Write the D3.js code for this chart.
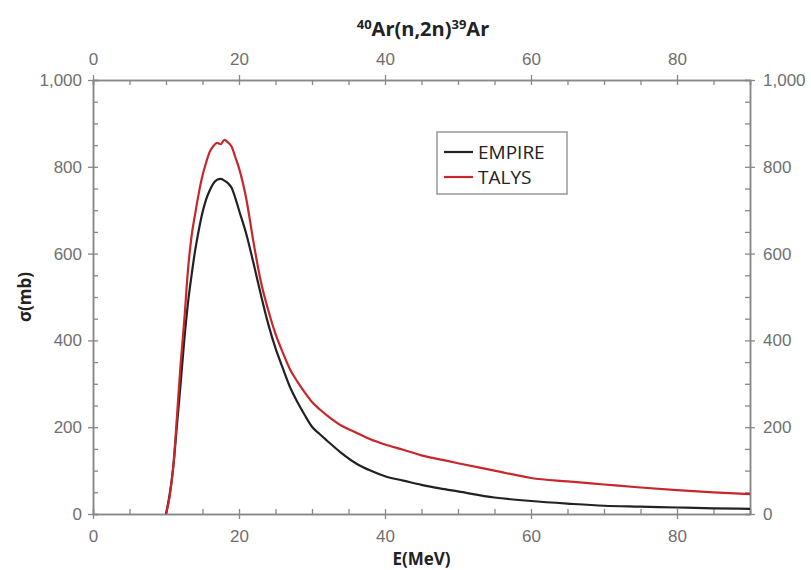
<!DOCTYPE html>
<html>
<head>
<meta charset="utf-8">
<script src="https://cdn.jsdelivr.net/npm/d3@7"></script>
<style>
  body { margin: 0; background: #fff; }
  svg { font-family: "Open Sans", "Noto Sans", sans-serif; }
  .axis path { stroke: #888; stroke-width: 1.5; }
  .axis line { stroke: #888; stroke-width: 1.3; }
  .axis text { fill: #707070; font-size: 17px; }
</style>
</head>
<body>
<svg id="chart"></svg>
<script>
// Energy grid (MeV)
var energy = [10, 10.5, 11, 11.5, 12, 12.5, 13, 13.5, 14, 14.5, 15, 15.5, 16, 16.5, 17, 17.5,
  18, 18.5, 19, 19.5, 20, 21, 22, 23, 24, 25, 26, 27, 28, 29, 30, 31, 32, 34, 36, 38, 40,
  42.5, 45, 47.5, 50, 55, 60, 65, 70, 75, 80, 85, 90];

// Cross sections (mb)
var empire = [0, 45, 109, 205, 300, 400, 485, 550, 608, 655, 695, 725, 746, 762, 770, 772,
  768, 762, 751, 728, 700, 645, 577, 505, 438, 382, 336, 292, 258, 228, 201, 185, 170, 141, 117, 100, 87,
  77, 67, 59, 52, 38, 30, 24, 19, 17, 15, 13, 12];
var talys = [0, 40, 110, 224, 345, 445, 560, 640, 692, 740, 780, 810, 835, 848, 855, 852,
  862, 856, 846, 822, 797, 726, 625, 535, 470, 415, 372, 333, 305, 280, 258, 242, 228, 204, 188, 172, 160,
  148, 135, 126, 117, 100, 83, 75, 68, 61, 55, 50, 46];

var xTicks = [0, 20, 40, 60, 80];
var yTicks = [0, 200, 400, 600, 800, 1000];
var seriesNames = ["EMPIRE", "TALYS"];
var seriesColors = ["#222222", "#c9262c"];

var W = 811, H = 570;
var margin = { top: 80, right: 61, bottom: 56, left: 93 },
  width = W - margin.left - margin.right,
  height = H - margin.top - margin.bottom;

var svg = d3.select("#chart").attr("width", W).attr("height", H);
var g = svg.append("g").attr("transform", `translate(${margin.left},${margin.top})`);

var xScale = d3.scaleLinear().domain([0, 90]).range([0, width]);
var yScale = d3.scaleLinear().domain([0, 1000]).range([height, 0]);

var xMinor = d3.range(0, 91, 5);
var yMinor = d3.range(0, 1001, 50);
var fmt = d3.format(",");

// minor ticks (inside)
g.append("g").attr("class", "axis").attr("transform", `translate(0,${height})`)
  .call(d3.axisBottom(xScale).tickValues(xMinor).tickSize(-5).tickFormat(""));
g.append("g").attr("class", "axis")
  .call(d3.axisTop(xScale).tickValues(xMinor).tickSize(-5).tickFormat(""));
g.append("g").attr("class", "axis")
  .call(d3.axisLeft(yScale).tickValues(yMinor).tickSize(-5).tickFormat(""));
g.append("g").attr("class", "axis").attr("transform", `translate(${width},0)`)
  .call(d3.axisRight(yScale).tickValues(yMinor).tickSize(-5).tickFormat(""));

// major ticks (outside) with labels
g.append("g").attr("class", "axis").attr("transform", `translate(0,${height})`)
  .call(d3.axisBottom(xScale).tickValues(xTicks).tickSize(5).tickSizeOuter(0).tickPadding(11));
g.append("g").attr("class", "axis")
  .call(d3.axisTop(xScale).tickValues(xTicks).tickSize(5).tickSizeOuter(0).tickPadding(10));
g.append("g").attr("class", "axis")
  .call(d3.axisLeft(yScale).tickValues(yTicks).tickSize(5).tickSizeOuter(0).tickFormat(fmt).tickPadding(6));
g.append("g").attr("class", "axis").attr("transform", `translate(${width},0)`)
  .call(d3.axisRight(yScale).tickValues(yTicks).tickSize(5).tickSizeOuter(0).tickFormat(fmt).tickPadding(8));

// curves
var line = d3.line().x((d, i) => xScale(energy[i])).y(d => yScale(d)).curve(d3.curveMonotoneX);
[empire, talys].forEach(function(s, k) {
  g.append("path").datum(s)
    .attr("fill", "none")
    .attr("stroke", seriesColors[k])
    .attr("stroke-width", 2.2)
    .attr("stroke-linejoin", "round")
    .attr("d", line);
});

// legend
var leg = svg.append("g").attr("transform", "translate(437,132)");
leg.append("rect").attr("width", 130).attr("height", 62)
  .attr("fill", "#fff").attr("stroke", "#999").attr("stroke-width", 1.5);
seriesNames.forEach(function(name, k) {
  var yy = 20 + k * 25;
  leg.append("line").attr("x1", 7).attr("x2", 36).attr("y1", yy).attr("y2", yy)
    .attr("stroke", seriesColors[k]).attr("stroke-width", 2.2);
  leg.append("text").attr("x", 41).attr("y", yy + 7).attr("fill", "#222")
    .style("font-size", "19px").text(name);
});

// title
var title = svg.append("text").attr("x", 423).attr("y", 36)
  .attr("text-anchor", "middle").style("font-weight", "bold").style("font-size", "20px").attr("fill", "#222");
title.append("tspan").attr("dy", "-7").style("font-size", "13px").text("40");
title.append("tspan").attr("dy", "7").text("Ar(n,2n)");
title.append("tspan").attr("dy", "-7").style("font-size", "13px").text("39");
title.append("tspan").attr("dy", "7").text("Ar");

// axis labels
svg.append("text")
  .attr("x", margin.left + xScale(45)).attr("y", 565)
  .attr("text-anchor", "middle").style("font-weight", "bold").style("font-size", "17px").attr("fill", "#222")
  .text("E(MeV)");
svg.append("text")
  .attr("transform", `translate(31,${margin.top + height / 2}) rotate(-90)`)
  .attr("text-anchor", "middle").style("font-weight", "bold").style("font-size", "17px").attr("fill", "#222")
  .text("σ(mb)");
</script>
</body>
</html>
